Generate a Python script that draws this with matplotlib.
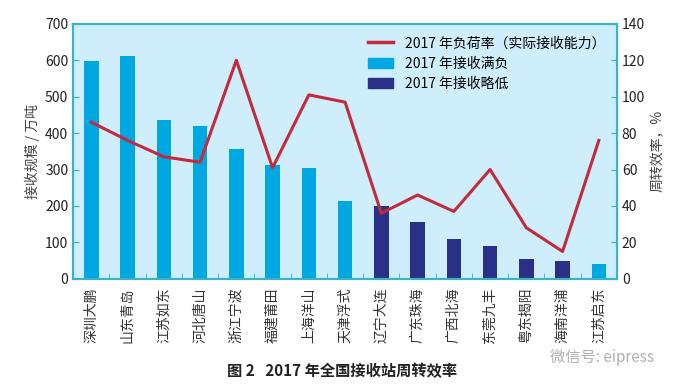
import numpy as np
import matplotlib.pyplot as plt
from matplotlib.patches import Patch
from matplotlib.lines import Line2D

plt.rcParams['font.family'] = ['Noto Sans CJK SC', 'DejaVu Sans']

stations = ["深圳大鹏", "山东青岛", "江苏如东", "河北唐山", "浙江宁波", "福建莆田", "上海洋山",
            "天津浮式", "辽宁大连", "广东珠海", "广西北海", "东莞九丰", "粤东揭阳", "海南洋浦", "江苏启东"]
volume = [599, 612, 437, 420, 357, 313, 305, 214, 200, 157, 110, 91, 55, 49, 41]
full = [True, True, True, True, True, True, True, True, False, False, False, False, False, False, True]
rate = [86, 76, 67, 64, 120, 61, 101, 97, 36, 46, 37, 60, 28, 15, 76]

c_full = "#00a8e1"
c_low = "#2a3087"
c_line = "#c42a3c"
c_axis = "#3ab4c4"

fig = plt.figure(figsize=(6.84, 3.91), dpi=100)
ax = fig.add_axes([0.107, 0.287, 0.795, 0.652])
ax.set_facecolor("#cdeefa")

x = np.arange(len(stations))
colors = [c_full if f else c_low for f in full]
ax.bar(x, volume, width=0.4, color=colors, zorder=2)
ax.set_xlim(-0.5, len(stations) - 0.5)
ax.set_ylim(0, 700)
ax.set_yticks(range(0, 701, 100))
ax.set_xticks(x)
ax.set_xticklabels(stations, rotation=90, fontsize=10, color="#333333")
ax.set_xticks(x[:-1] + 0.5, minor=True)
ax.tick_params(axis="x", which="major", length=0, pad=6)
ax.tick_params(axis="x", which="minor", length=4, direction="in", color=c_axis)
ax.tick_params(axis="y", direction="in", length=4, color=c_axis, labelsize=10, labelcolor="#222222")
ax.set_ylabel("接收规模 / 万吨", fontsize=10, color="#444444")

ax2 = ax.twinx()
ax2.plot(x, rate, color=c_line, lw=2.2, zorder=3)
ax2.set_ylim(0, 140)
ax2.set_yticks(range(0, 141, 20))
ax2.tick_params(axis="y", direction="in", length=4, color=c_axis, labelsize=10, labelcolor="#222222")
ax2.set_ylabel("周转效率，%", fontsize=10, color="#444444")

for a in (ax, ax2):
    for s in a.spines.values():
        s.set_color(c_axis)
        s.set_linewidth(1.5)

handles = [Line2D([0], [0], color=c_line, lw=2.5),
           Patch(color=c_full), Patch(color=c_low)]
labels = ["2017 年负荷率（实际接收能力）", "2017 年接收满负", "2017 年接收略低"]
ax2.legend(handles, labels, loc="upper left", bbox_to_anchor=(0.52, 1.0), frameon=False,
           fontsize=10, handlelength=1.8, labelspacing=0.45)

fig.text(0.5, 0.05, "图 2   2017 年全国接收站周转效率", ha="center", va="center",
         fontsize=11, fontweight="bold", color="#222222")
fig.text(0.88, 0.085, "微信号: eipress", ha="center", va="center", fontsize=11, color="#b0b0b0")

fig.savefig("out.png", dpi=100)
